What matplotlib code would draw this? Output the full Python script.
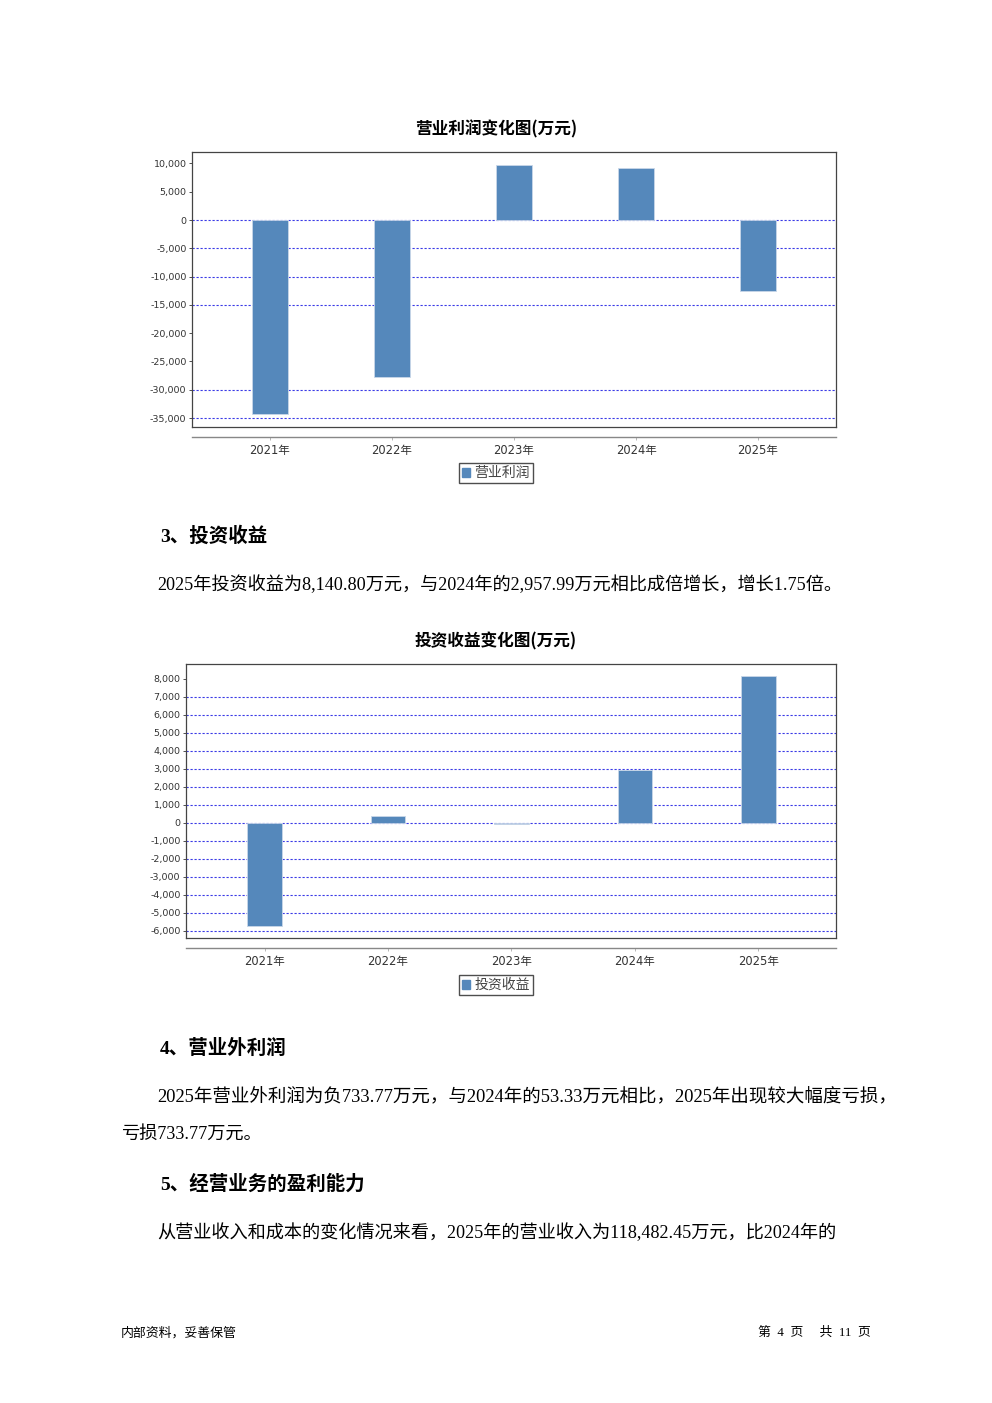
import matplotlib
matplotlib.use("Agg")
import matplotlib.pyplot as plt
from matplotlib.patches import Patch
from matplotlib.ticker import FuncFormatter

# ---------------- data ----------------
years = ["2021年", "2022年", "2023年", "2024年", "2025年"]
op_profit = [-34300, -27700, 9700, 9200, -12600]
op_ticks = [10000, 5000, 0, -5000, -10000, -15000, -20000, -25000, -30000, -35000]
op_grid = [0, -5000, -10000, -15000, -30000, -35000]

inv_income = [-5720, 370, -60, 2957.99, 8140.80]
inv_ticks = [8000, 7000, 6000, 5000, 4000, 3000, 2000, 1000, 0,
             -1000, -2000, -3000, -4000, -5000, -6000]
inv_grid = [7000, 6000, 5000, 4000, 3000, 2000, 1000, 0,
            -1000, -2000, -3000, -4000, -5000, -6000]

W, H = 992, 1403
BAR = "#5588bb"
GRID = "#3a3ae6"
SANS = ["DejaVu Sans", "Noto Sans CJK SC"]
CJK = ["Noto Sans CJK SC", "DejaVu Sans"]
SERIF = ["Liberation Serif", "Noto Sans CJK SC"]

fig = plt.figure(figsize=(W / 100, H / 100), dpi=100)
fig.patch.set_facecolor("white")


def rect(l, t, r, b):
    return [l / W, 1 - b / H, (r - l) / W, (b - t) / H]


def fx(x):
    return x / W


def fy(y):
    return 1 - y / H


def chart(frame, axis_y, xlim, ylim, values, ticks, grid, width, title, title_pos,
          legend_label, legend_center):
    l, t, r, b = frame
    ax = fig.add_axes(rect(l, t, r, b))
    x = list(range(len(years)))
    ax.bar(x, values, width=width, color=BAR, edgecolor="#c9d7e8",
           linewidth=0.6, zorder=3)
    for g in grid:
        ax.axhline(g, color=GRID, linestyle=(0, (2, 1.6)), linewidth=0.8, zorder=2)
    ax.set_xlim(*xlim)
    ax.set_ylim(*ylim)
    ax.set_xticks([])
    ax.set_yticks(ticks)
    ax.yaxis.set_major_formatter(FuncFormatter(lambda v, p: f"{int(v):,}"))
    ax.tick_params(axis="y", length=2, width=0.6, pad=2, colors="#333333",
                   labelsize=6.8)
    for lab in ax.get_yticklabels():
        lab.set_family(SANS)
    for s in ax.spines.values():
        s.set_color("#444444")
        s.set_linewidth(0.9)

    # separate category axis below the frame
    cax = fig.add_axes(rect(l, b, r, axis_y))
    cax.set_xlim(*xlim)
    cax.set_ylim(0, 1)
    cax.patch.set_alpha(0)
    for k in ("top", "left", "right"):
        cax.spines[k].set_visible(False)
    cax.spines["bottom"].set_color("#888888")
    cax.spines["bottom"].set_linewidth(1.0)
    cax.set_yticks([])
    cax.set_xticks(x)
    cax.set_xticklabels(years, family=SANS, fontsize=8.3, color="#333333")
    cax.tick_params(axis="x", length=2, width=0.6, color="#aaaaaa", pad=3)

    fig.text(fx(title_pos[0]), fy(title_pos[1]), title, family=CJK, fontsize=12,
             fontweight="bold", ha="center", va="center")

    handle = Patch(facecolor=BAR, edgecolor=BAR)
    leg = fig.legend([handle], [legend_label], loc="center",
                     bbox_to_anchor=(fx(legend_center[0]), fy(legend_center[1])),
                     frameon=True, fancybox=False, handlelength=0.6,
                     handleheight=0.6, handletextpad=0.3, borderpad=0.22,
                     borderaxespad=0, prop={"family": CJK, "size": 10})
    leg.get_frame().set_edgecolor("#222222")
    leg.get_frame().set_linewidth(1.0)
    for txt in leg.get_texts():
        txt.set_color("#444444")
    return ax


chart((192, 152, 836, 427), 437, (-0.639, 4.639), (-36590, 12020),
      op_profit, op_ticks, op_grid, 0.295, "营业利润变化图(万元)", (496, 129),
      "营业利润", (496, 473))

chart((186, 664, 836, 938), 948, (-0.636, 4.628), (-6389, 8833),
      inv_income, inv_ticks, inv_grid, 0.283, "投资收益变化图(万元)", (496, 641),
      "投资收益", (496, 985))

# ---------------- document text ----------------
def heading(x, y, s):
    fig.text(fx(x), fy(y), s, family=["Liberation Serif", "Noto Sans CJK SC"],
             fontsize=14, fontweight="bold", ha="left", va="center")


def body(x, y, s, size=13.1):
    fig.text(fx(x), fy(y), s, family=SERIF, fontsize=size, ha="left", va="center")


heading(160, 536, "3、投资收益")
body(157, 585, "2025年投资收益为8,140.80万元，与2024年的2,957.99万元相比成倍增长，增长1.75倍。")
heading(160, 1048, "4、营业外利润")
body(157, 1097, "2025年营业外利润为负733.77万元，与2024年的53.33万元相比，2025年出现较大幅度亏损，",
     size=13.3)
body(121, 1134, "亏损733.77万元。")
heading(160, 1184, "5、经营业务的盈利能力")
body(157, 1233, "从营业收入和成本的变化情况来看，2025年的营业收入为118,482.45万元，比2024年的")

fig.text(fx(121), fy(1333), "内部资料，妥善保管", family=CJK, fontsize=9.3,
         ha="left", va="center")
fig.text(fx(871), fy(1333), "第  4  页     共  11  页", family=SERIF, fontsize=9.3,
         ha="right", va="center")

fig.savefig("out.png", dpi=100, facecolor="white")
